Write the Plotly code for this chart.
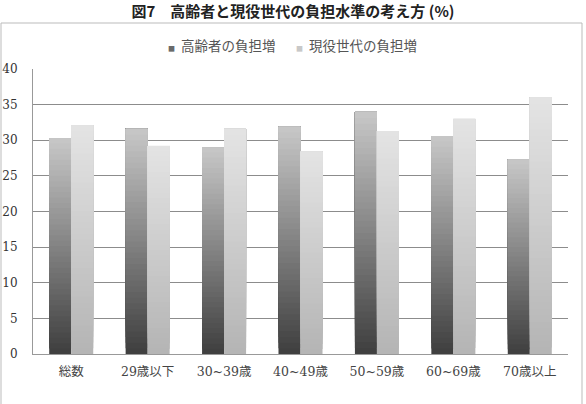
import plotly.graph_objects as go

categories = ["総数", "29歳以下", "30~39歳", "40~49歳", "50~59歳", "60~69歳", "70歳以上"]
elderly_burden = [30.3, 31.6, 29.0, 31.9, 34.0, 30.6, 27.3]   # 高齢者の負担増
working_burden = [32.1, 29.2, 31.6, 28.4, 31.3, 33.0, 36.0]   # 現役世代の負担増
series_names = ["高齢者の負担増", "現役世代の負担増"]
y_ticks = [0, 5, 10, 15, 20, 25, 30, 35, 40]

N = 40  # gradient slices per bar (styling only)

def lerp(c0, c1, t):
    return "rgb(%d,%d,%d)" % tuple(round(a + (b - a) * t) for a, b in zip(c0, c1))

styles = [
    (elderly_burden, series_names[0], (62, 62, 62), (200, 200, 200), "a"),
    (working_burden, series_names[1], (180, 180, 180), (228, 228, 228), "b"),
]

fig = go.Figure()
for vals, name, c_bot, c_top, grp in styles:
    for k in range(N):
        t = (k + 0.5) / N
        # each slice runs from its own start up to the bar top; later slices overdraw
        fig.add_trace(go.Bar(
            x=categories,
            y=[v * (N - k) / N for v in vals],
            base=[v * k / N for v in vals],
            offsetgroup=grp,
            name=name,
            marker=dict(color=lerp(c_bot, c_top, t), line=dict(width=0)),
            showlegend=False,
            hoverinfo="skip",
        ))

serif = "DejaVu Serif, Noto Sans CJK JP, serif"

fig.update_layout(
    template="none",
    width=586, height=404,
    margin=dict(l=33, r=18, t=69, b=50, autoexpand=False),
    paper_bgcolor="white", plot_bgcolor="white",
    barmode="group", bargap=0.424, bargroupgap=0,
    title=dict(text="<b>図7　高齢者と現役世代の負担水準の考え方 (%)</b>",
               x=0.5, xanchor="center", y=0.970, yanchor="middle",
               font=dict(family="Noto Sans CJK JP", size=15, color="#222222")),
    font=dict(family=serif, size=12, color="#333333"),
    showlegend=False,
)

# legend drawn as text annotations with small swatches
legend_items = [
    (series_names[0], "#6a6a6a", 222),
    (series_names[1], "#c8c8c8", 356),
]
for name, col, px in legend_items:
    fig.add_annotation(
        xref="paper", yref="paper", x=(px - 33) / 535, y=(354 - 45) / 285,
        xanchor="center", yanchor="middle", showarrow=False,
        text='<span style="color:%s;font-size:7px">■</span>  %s' % (col, name),
        font=dict(family="Noto Sans CJK JP", size=13.5, color="#555555"),
    )

fig.update_xaxes(automargin=False, showline=True, linecolor="#999999", linewidth=1,
                 showgrid=False, ticks="", ticklabelstandoff=6,
                 tickfont=dict(family=serif, size=12.5, color="#444444"),
                 fixedrange=True)
fig.update_yaxes(automargin=False, range=[0, 40], tickvals=y_ticks, showgrid=True,
                 gridcolor="#8c8c8c", gridwidth=1, showline=True, linecolor="#999999",
                 linewidth=1, zeroline=False, ticks="", ticklabelstandoff=12,
                 tickfont=dict(family=serif, size=12, color="#333333"))

# outer chart frame
fig.add_shape(type="rect", xref="paper", yref="paper",
              x0=(1 - 33) / 535, x1=(582 - 33) / 535,
              y0=(354 - 410) / 285, y1=(354 - 23) / 285,
              line=dict(color="#bbbbbb", width=1), layer="below")

fig.write_html("out.html")
